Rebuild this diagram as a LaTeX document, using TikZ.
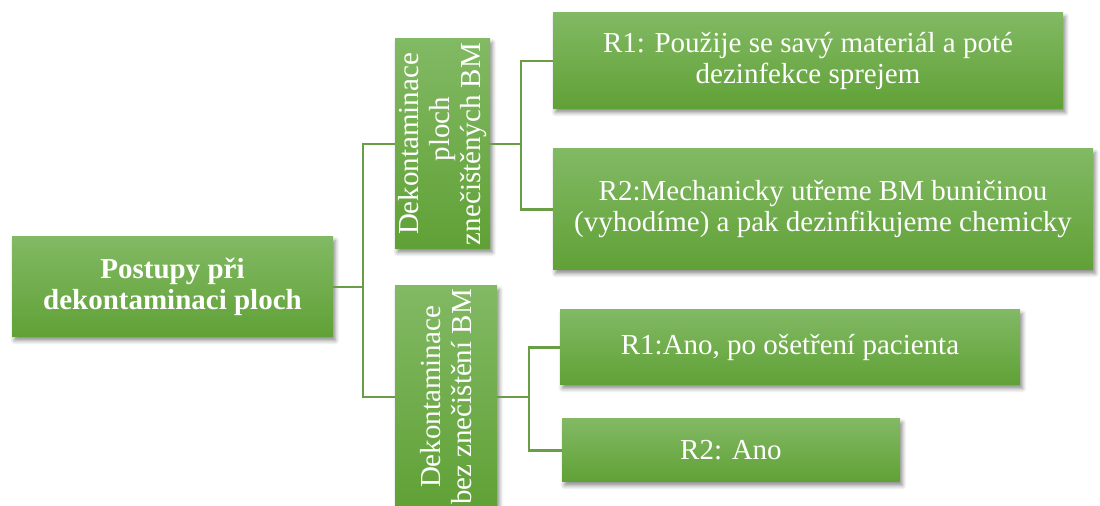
\documentclass[tikz,border=0pt]{standalone}
\usepackage{fontspec}
\setmainfont{Liberation Serif}
\usetikzlibrary{shadows.blur}
\definecolor{gtop}{HTML}{82B964}
\definecolor{gbot}{HTML}{60A136}
\definecolor{conncol}{HTML}{6A9E46}
\begin{document}
\begin{tikzpicture}[x=0.5pt,y=-0.5pt,
  box/.style={draw=none, top color=gtop, bottom color=gbot,
    blur shadow={shadow xshift=1.2pt, shadow yshift=-1.8pt, shadow blur steps=6, shadow opacity=45, shadow blur radius=2pt},
    inner sep=0pt, text=white, align=center,
    font=\fontsize{14.5}{15.5}\selectfont},
  rottext/.style={inner sep=0pt, text=white, align=center, rotate=90,
    font=\fontsize{14.5}{15.5}\selectfont},
  conn/.style={draw=conncol, line width=1.3pt}]
\useasboundingbox (0,0) rectangle (1100,506);
\clip (0,0) rectangle (1100,506);
% boxes
\node[box, minimum width=160.5pt, minimum height=50pt] (root) at (172.5,287)
  {\bfseries Postupy při\\ \bfseries dekontaminaci ploch};
\node[box, minimum width=47.5pt, minimum height=105pt] (A) at (442.5,144) {};
\node[rottext] (At) at (A.center) {Dekontaminace\\\hspace*{15pt}ploch\\znečištěných BM};
\node[box, minimum width=51pt, minimum height=111pt] (B) at (446,397) {};
\node[rottext] (Bt) at (B.center) {Dekontaminace\\bez znečištění BM};
\node[box, minimum width=255pt, minimum height=48pt] (R1) at (808,61)
  {R1: Použije se savý materiál a poté\\dezinfekce sprejem};
\node[box, minimum width=270pt, minimum height=60.5pt] (R2) at (823,209.5)
  {R2:Mechanicky utřeme BM buničinou\\(vyhodíme) a pak dezinfikujeme chemicky};
\node[box, minimum width=230pt, minimum height=37.5pt] (R3) at (790,347.5)
  {R1:Ano, po ošetření pacienta};
\node[box, minimum width=169pt, minimum height=31.5pt] (R4) at (731,450.5)
  {R2: Ano};
% connectors
\coordinate (j1) at (363,287);
\coordinate (j2) at (521,144);
\coordinate (j3) at (529,397);
\draw[conn] (root.east) -- (j1);
\draw[conn] (j1) |- (A.west);
\draw[conn] (j1) |- (B.west);
\draw[conn] (A.east) -- (j2);
\draw[conn] (j2) |- (R1.west);
\draw[conn] (j2) |- (R2.west);
\draw[conn] (B.east) -- (j3);
\draw[conn] (j3) |- (R3.west);
\draw[conn] (j3) |- (R4.west);
\end{tikzpicture}
\end{document}
